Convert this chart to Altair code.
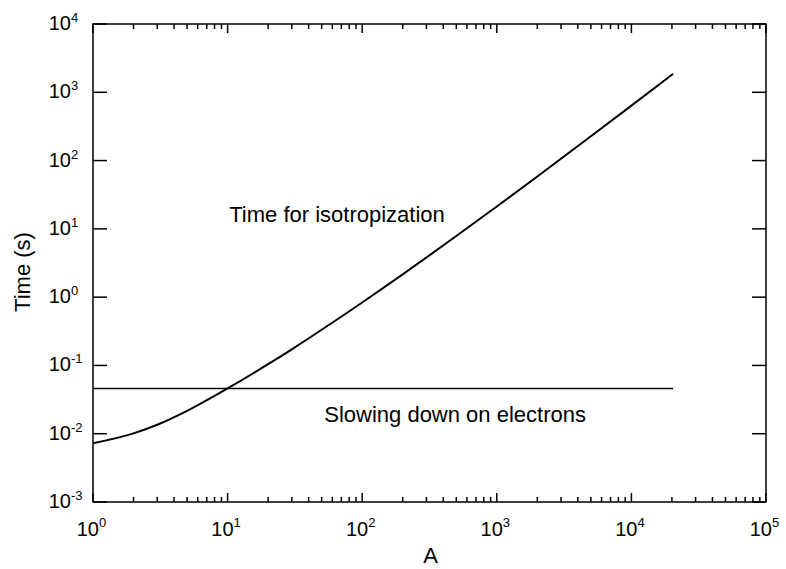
import altair as alt
import pandas as pd

# Data
A_iso = [1, 2, 3, 5, 10, 20, 30, 50, 100, 200, 500, 1000, 2000, 5000, 10000, 20400]
T_iso = [0.00724, 0.0101, 0.01352, 0.02163, 0.04603, 0.1042, 0.1722, 0.3327, 0.8356,
         2.158, 7.852, 21.28, 58.48, 227.0, 638.3, 1862]
A_slow = [1, 20400]
T_slow = [0.046, 0.046]

x_major = [1, 10, 100, 1000, 10000, 100000]
y_major = [0.001, 0.01, 0.1, 1, 10, 100, 1000, 10000]
x_minor = [2, 3, 4, 5, 6, 7, 8, 9,
           20, 30, 40, 50, 60, 70, 80, 90,
           200, 300, 400, 500, 600, 700, 800, 900,
           2000, 3000, 4000, 5000, 6000, 7000, 8000, 9000,
           20000, 30000, 40000, 50000, 60000, 70000, 80000, 90000]
x_exponents = ["0", "1", "2", "3", "4", "5"]
y_exponents = ["-3", "-2", "-1", "0", "1", "2", "3", "4"]

ann_text = ["Time for isotropization", "Slowing down on electrons"]
ann_A = [65, 490]
ann_T = [16, 0.0186]

x_title = "A"
y_title = "Time (s)"

W, H = 673, 478
FONT = "Liberation Sans"
BASE_SIZE = 20
EXP_SIZE = 13

xs = alt.Scale(type="log", domain=[1, 100000], nice=False)
ys = alt.Scale(type="log", domain=[0.001, 10000], nice=False)

df_iso = pd.DataFrame({"A": A_iso, "T": T_iso})
df_slow = pd.DataFrame({"A": A_slow, "T": T_slow})
df_xmaj = pd.DataFrame({"v": x_major, "b": ["10"] * len(x_major), "e": x_exponents})
df_xmin = pd.DataFrame({"v": x_minor})
df_ymaj = pd.DataFrame({"v": y_major, "b": ["10"] * len(y_major), "e": y_exponents})
df_ann = pd.DataFrame({"A": ann_A, "T": ann_T, "t": ann_text})

X = lambda f: alt.X(f, scale=xs, axis=None)
Y = lambda f: alt.Y(f, scale=ys, axis=None)

iso = alt.Chart(df_iso).mark_line(color="black", strokeWidth=2, interpolate="monotone").encode(
    x=X("A:Q"), y=Y("T:Q"))
slow = alt.Chart(df_slow).mark_line(color="black", strokeWidth=1.6).encode(
    x=X("A:Q"), y=Y("T:Q"))

def xticks(df, y0, y1):
    return alt.Chart(df).mark_rule(color="black", strokeWidth=1.5).encode(
        x=X("v:Q"), y=alt.value(y0), y2=alt.value(y1))

def yticks(df, x0, x1):
    return alt.Chart(df).mark_rule(color="black", strokeWidth=1.5).encode(
        y=Y("v:Q"), x=alt.value(x0), x2=alt.value(x1))

ticks = [
    xticks(df_xmaj, H, H - 9), xticks(df_xmin, H, H - 5),
    xticks(df_xmaj, 0, 9), xticks(df_xmin, 0, 5),
    yticks(df_ymaj, 0, 14), yticks(df_ymaj, W, W - 14),
]

# tick labels: "10" with a raised exponent
xl_base = alt.Chart(df_xmaj).mark_text(font=FONT, fontSize=BASE_SIZE, color="black",
                                       align="right", baseline="alphabetic", dx=6).encode(
    x=X("v:Q"), y=alt.value(H + 33.5), text="b:N")
xl_exp = alt.Chart(df_xmaj).mark_text(font=FONT, fontSize=EXP_SIZE, color="black",
                                      align="left", baseline="alphabetic", dx=6).encode(
    x=X("v:Q"), y=alt.value(H + 24.5), text="e:N")
yl_base = alt.Chart(df_ymaj).mark_text(font=FONT, fontSize=BASE_SIZE, color="black",
                                       align="right", baseline="alphabetic", dy=6).encode(
    y=Y("v:Q"), x=alt.value(-22), text="b:N")
yl_exp = alt.Chart(df_ymaj).mark_text(font=FONT, fontSize=EXP_SIZE, color="black",
                                      align="left", baseline="alphabetic", dy=-2).encode(
    y=Y("v:Q"), x=alt.value(-22), text="e:N")

# axis titles
xt = alt.Chart(pd.DataFrame({"t": [x_title]})).mark_text(
    font=FONT, fontSize=22, color="black", align="center", baseline="alphabetic").encode(
    x=alt.value(W / 2 + 1), y=alt.value(H + 61), text="t:N")
yt = alt.Chart(pd.DataFrame({"t": [y_title]})).mark_text(
    font=FONT, fontSize=22, color="black", align="center", baseline="middle", angle=270).encode(
    x=alt.value(-70), y=alt.value(248), text="t:N")

ann = alt.Chart(df_ann).mark_text(font=FONT, fontSize=22, color="black", align="center",
                                  baseline="middle").encode(
    x=X("A:Q"), y=Y("T:Q"), text="t:N")

chart = alt.layer(iso, slow, *ticks, xl_base, xl_exp, yl_base, yl_exp, xt, yt, ann).properties(
    width=W, height=H,
    autosize=alt.AutoSizeParams(type="none"),
    padding={"left": 93, "top": 24, "right": 20, "bottom": 67},
    background="white",
).configure_view(stroke="black", strokeWidth=1.5)

chart.save("out.html", embed_options={"renderer": "svg", "actions": False})
